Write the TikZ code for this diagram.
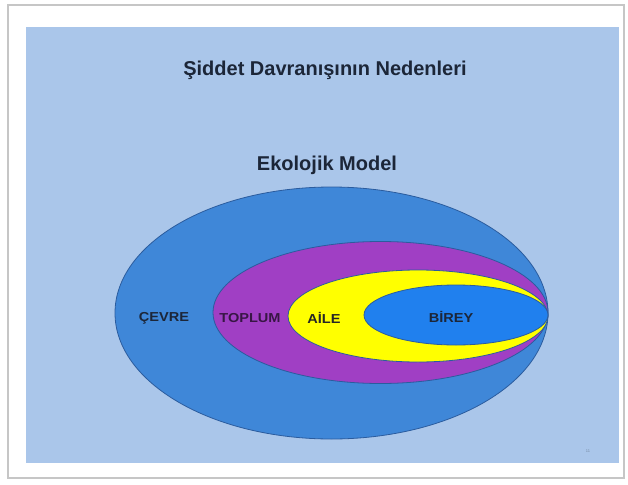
\documentclass[tikz,border=0pt]{standalone}
\usepackage{fontspec}
\setmainfont{Liberation Sans}
\usetikzlibrary{shapes.geometric, positioning}

\definecolor{slidebg}{HTML}{AAC6EA}
\definecolor{cevreblue}{HTML}{3F87D8}
\definecolor{toplumpurple}{HTML}{A03FC4}
\definecolor{aileyellow}{HTML}{FFFF00}
\definecolor{bireyblue}{HTML}{2080EE}
\definecolor{rimblue}{HTML}{2B5C9E}
\definecolor{inkdark}{HTML}{1C2638}

\begin{document}
\begin{tikzpicture}[
    x=1pt, y=-1pt,
    layer/.style={ellipse, draw=rimblue, line width=0.8pt, inner sep=0pt},
    title/.style={font=\fontsize{20}{22}\selectfont\bfseries, text=inkdark},
    lbl/.style={font=\fontsize{13}{14}\selectfont\bfseries, text=inkdark, xscale=1.12}
]
    \useasboundingbox (0,0) rectangle (628,484);
    \fill[white] (0,0) rectangle (628,484);

    % slide frame and panel
    \draw[gray!45, line width=1.2pt, fill=white] (8,5) rectangle (624,478);
    \fill[slidebg] (26,27) rectangle (619,463);

    \node[title] (baslik) at (325,70) {Şiddet Davranışının Nedenleri};
    \node[title] (model) at (327,165) {Ekolojik Model};

    % nested layers, all touching on the right
    \node[layer, fill=cevreblue, minimum width=433pt, minimum height=252pt] (cevre) at (331.5,313) {};
    \node[layer, fill=toplumpurple, minimum width=335pt, minimum height=142pt] (toplum) at (380.5,312.5) {};
    \node[layer, fill=aileyellow, minimum width=260pt, minimum height=92pt] (aile) at (418,316) {};
    \node[layer, fill=bireyblue, minimum width=184pt, minimum height=60pt] (birey) at (456,315) {};

    \node[lbl] (tcevre) at (164,318) {ÇEVRE};
    \node[lbl, text=toplumpurple!35!black] (ttoplum) at (250,318) {TOPLUM};
    \node[lbl, text=black!85] (taile) at (324,318) {AİLE};
    \node[lbl] (tbirey) at (451,317) {BİREY};

    \node[font=\fontsize{4}{5}\selectfont, text=slidebg!70!black] (sayfa) at (588,451) {11};
\end{tikzpicture}
\end{document}
